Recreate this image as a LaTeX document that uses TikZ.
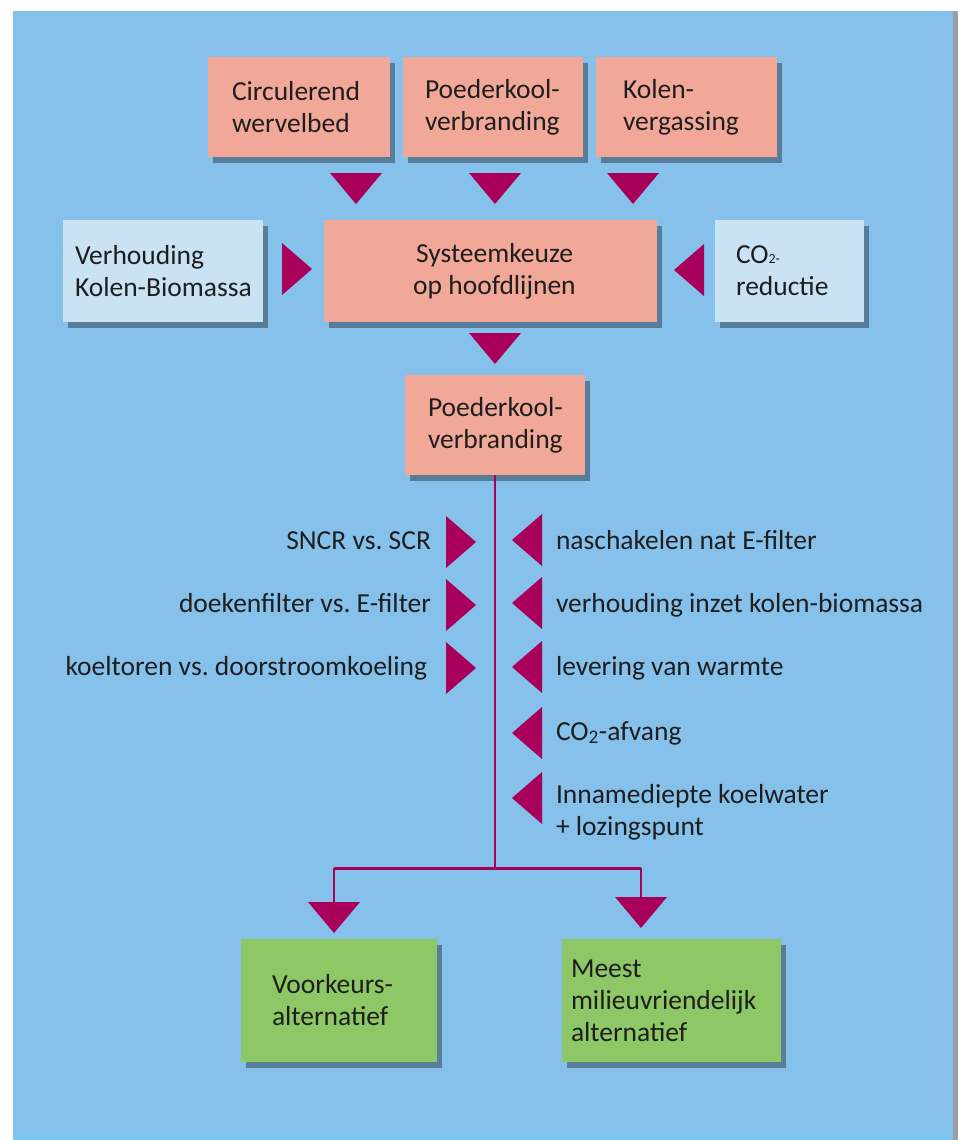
\documentclass[tikz,border=0pt]{standalone}
\usepackage{fontspec}
\setmainfont{Carlito}
\usetikzlibrary{shadows}
\frenchspacing
\definecolor{bgblue}{HTML}{86C1EC}
\definecolor{bgstrip}{HTML}{7EC6F2}
\definecolor{salmon}{HTML}{F2A898}
\definecolor{paleblue}{HTML}{C9E3F5}
\definecolor{leaf}{HTML}{8DC766}
\definecolor{crim}{HTML}{A8005A}
\definecolor{ink}{HTML}{1E1E1E}
\definecolor{edge}{HTML}{9AA0A6}
\newcommand\tridn[2]{\fill[tri] (#1-26,#2) -- (#1+26,#2) -- (#1,#2+31) -- cycle;}
\newcommand\trirt[2]{\fill[tri] (#1,#2-26) -- (#1,#2+26) -- (#1+30,#2) -- cycle;}
\newcommand\trilt[2]{\fill[tri] (#1+30,#2-26) -- (#1+30,#2+26) -- (#1,#2) -- cycle;}
\begin{document}
\begin{tikzpicture}[x=1pt,y=-1pt,
  every node/.style={inner sep=0pt, outer sep=0pt},
  boxbase/.style={minimum height=100pt, drop shadow={shadow xshift=5pt, shadow yshift=-6pt, fill=black, opacity=0.35}},
  salbox/.style={boxbase, fill=salmon},
  palebox/.style={boxbase, fill=paleblue},
  greenbox/.style={boxbase, fill=leaf, minimum height=123pt},
  lbl/.style={text=ink, font=\fontsize{27.5}{32}\selectfont\frenchspacing, align=left},
  tri/.style={fill=crim},
  ln/.style={draw=crim, line width=2pt},
  brln/.style={draw=crim, line width=3pt}]
\useasboundingbox (0,0) rectangle (958,1140);
\fill[white] (0,0) rectangle (958,1140);
\fill[bgblue] (13,11) rectangle (953,1140);
\fill[bgstrip] (13,1132) rectangle (953,1140);
\fill[edge] (953,11) rectangle (958,1140);

% boxes
\node[salbox, minimum width=182pt] (c1) at (299,107) {};
\node[salbox, minimum width=180pt] (c2) at (493,107) {};
\node[salbox, minimum width=181pt] (c3) at (686.5,107) {};
\node[palebox, minimum width=200pt, minimum height=102pt] (vb) at (163,271) {};
\node[salbox, minimum width=333pt, minimum height=102pt] (sk) at (490.5,271) {};
\node[palebox, minimum width=149pt, minimum height=102pt] (co) at (789.5,271) {};
\node[salbox, minimum width=180pt] (p2) at (495,425) {};
\node[greenbox, minimum width=196pt] (vk) at (339,1000.5) {};
\node[greenbox, minimum width=219pt] (mm) at (671.5,1000.5) {};

% box texts
\node[lbl, anchor=west] (tc1) at ([xshift=24pt]c1.west) {Circulerend\\wervelbed};
\node[lbl, anchor=west] (tc2) at ([xshift=22pt]c2.west) {Poederkool-\\verbranding};
\node[lbl, anchor=west] (tc3) at ([xshift=27pt]c3.west) {Kolen-\\vergassing};
\node[lbl, anchor=west] (tvb) at ([xshift=12pt]vb.west) {Verhouding\\Kolen-Biomassa};
\node[lbl, align=center] (tsk) at ([xshift=4pt]sk.center) {Systeemkeuze\\op hoofdlijnen};
\node[lbl, anchor=west] (tco) at ([xshift=21pt]co.west) {CO{\fontsize{14}{14}\selectfont 2-}\\reductie};
\node[lbl, anchor=west] (tp2) at ([xshift=23pt]p2.west) {Poederkool-\\verbranding};
\node[lbl, anchor=west] (tvk) at ([xshift=31pt]vk.west) {Voorkeurs-\\alternatief};
\node[lbl, anchor=west] (tmm) at ([xshift=9pt]mm.west) {Meest\\milieuvriendelijk\\alternatief};

% triangles top
\tridn{356}{173}
\tridn{495}{173}
\tridn{633}{173}
\trirt{282}{269}
\trilt{674}{270}
\tridn{495}{333}

% main line and branch
\coordinate (br) at (495,868);
\coordinate (bl) at (334,868);
\coordinate (brr) at (641,868);
\coordinate (al) at (334,903);
\coordinate (ar) at (641,898);
\draw[ln] (p2.south) -- (br);
\draw[brln] (bl) -- (brr);
\draw[ln] (bl) -- (al);
\draw[ln] (brr) -- (ar);
\tridn{334}{902}
\tridn{641}{897}

% side triangles
\trirt{446}{542}
\trirt{446}{605}
\trirt{446}{668}
\trilt{512}{540}
\trilt{512}{603}
\trilt{512}{667}
\trilt{512}{733}
\trilt{512}{798}

% side labels
\node[lbl, anchor=base east] (l1) at (431,549) {SNCR vs. SCR};
\node[lbl, anchor=base east] (l2) at (431,612) {doekenfilter vs. E-filter};
\node[lbl, anchor=base east] (l3) at (427,675) {koeltoren vs. doorstroomkoeling};
\node[lbl, anchor=base west] (r1) at (556,549) {naschakelen nat E-filter};
\node[lbl, anchor=base west] (r2) at (556,612) {verhouding inzet kolen-biomassa};
\node[lbl, anchor=base west] (r3) at (556,675) {levering van warmte};
\node[lbl, anchor=base west] (r4) at (556,740) {CO\textsubscript{2}-afvang};
\node[lbl, anchor=west] (r5) at (556,812) {Innamediepte koelwater\\+ lozingspunt};
\end{tikzpicture}
\end{document}
